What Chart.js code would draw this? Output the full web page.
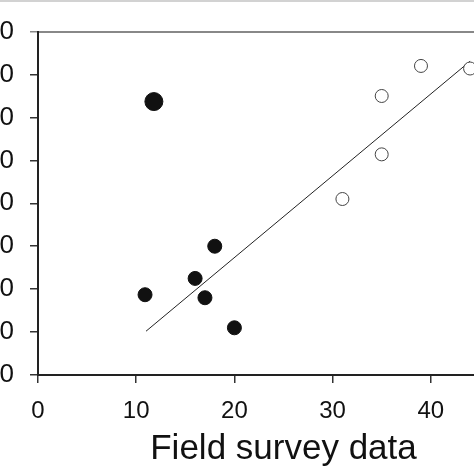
<!DOCTYPE html>
<html>
<head>
<meta charset="utf-8">
<script src="https://cdn.jsdelivr.net/npm/chart.js@4.4.1/dist/chart.umd.min.js"></script>
<style>
  html, body { margin: 0; padding: 0; width: 474px; height: 474px; overflow: hidden; background: #fff; }
  #wrap { position: absolute; left: -40px; top: 0; width: 600px; height: 474px; }
  #band { position: absolute; left: 0; top: 0; width: 474px; height: 2px; background: #d2d2d2; z-index: 2; }
</style>
</head>
<body>
<div id="band"></div>
<div id="wrap"><canvas id="grafico"></canvas></div>
<script>
// pontos preenchidos (x = levantamento de campo, y = estimativa)
const filledX = [11.8, 10.9, 16.0, 17.0, 18.0, 20.0];
const filledY = [63.7, 18.7, 22.5, 18.0, 30.0, 11.0];

// pontos abertos
const openX = [31.0, 35.0, 35.0, 39.0, 44.0];
const openY = [41.0, 51.4, 65.0, 72.0, 71.4];

// reta de regressão (extremos)
const lineX = [11.0, 44.0];
const lineY = [10.2, 73.1];

const xTicks = [0, 10, 20, 30, 40, 50];
const yTicks = [0, 10, 20, 30, 40, 50, 60, 70, 80];

const toPts = (xs, ys) => xs.map((x, i) => ({ x: x, y: ys[i] }));

const fonte = "'Liberation Sans', Arial, Helvetica, sans-serif";

const ctx = document.getElementById("grafico").getContext("2d");
new Chart(ctx, {
    type: "scatter",
    data: {
        datasets: [
            {
                label: "filled",
                data: toPts(filledX, filledY),
                backgroundColor: "#111",
                borderColor: "#111",
                pointRadius: c => (c.dataIndex === 0 ? 9 : 7),
                pointHoverRadius: c => (c.dataIndex === 0 ? 9 : 7)
            },
            {
                label: "open",
                data: toPts(openX, openY),
                backgroundColor: "#fff",
                borderColor: "#444",
                borderWidth: 1,
                pointRadius: 6.5
            },
            {
                type: "line",
                label: "fit",
                data: toPts(lineX, lineY),
                borderColor: "#222",
                borderWidth: 1,
                pointRadius: 0,
                fill: false
            }
        ]
    },
    options: {
        responsive: true,
        maintainAspectRatio: false,
        animation: false,
        layout: { padding: { top: 27, right: 31, left: 0, bottom: 0 } },
        plugins: {
            legend: { display: false },
            tooltip: { enabled: false }
        },
        scales: {
            x: {
                type: "linear",
                position: "bottom",
                min: 0,
                max: 50,
                afterBuildTicks: s => { s.ticks = xTicks.map(v => ({ value: v })); },
                afterFit: s => { s.height = 99; },
                grid: { drawOnChartArea: false, drawTicks: true, tickLength: 8, color: "#333", lineWidth: 1.5 },
                border: { color: "#222", width: 2 },
                ticks: { color: "#111", font: { family: fonte, size: 24 }, padding: 14, maxRotation: 0 },
                title: {
                    display: true,
                    text: "Field survey data",
                    color: "#111",
                    font: { family: fonte, size: 35 },
                    padding: { top: 0, bottom: 4 }
                }
            },
            x2: {
                type: "linear",
                position: "top",
                min: 0,
                max: 50,
                afterFit: s => { s.height = 0; },
                grid: { display: false, drawTicks: false },
                border: { color: "#888", width: 2 },
                ticks: { display: false }
            },
            y: {
                type: "linear",
                min: 0,
                max: 80,
                afterBuildTicks: s => { s.ticks = yTicks.map(v => ({ value: v })); },
                afterFit: s => { s.width = 78; },
                grid: {
                    drawOnChartArea: false,
                    drawTicks: true,
                    tickLength: 8,
                    lineWidth: 1.5,
                    color: c => (c.tick && c.tick.value === 80 ? "#888" : "#333")
                },
                border: { color: "#222", width: 2 },
                ticks: { color: "#111", font: { family: fonte, size: 26 }, padding: 16 }
            }
        }
    }
});
</script>
</body>
</html>
